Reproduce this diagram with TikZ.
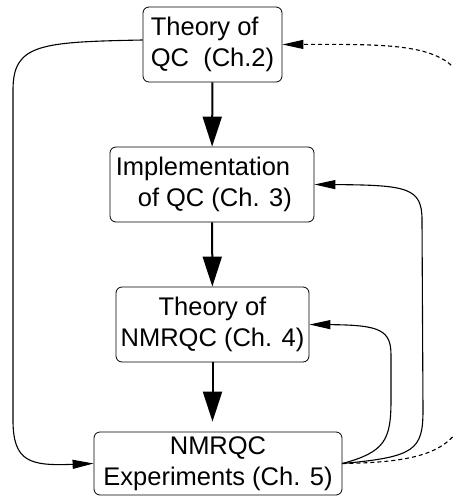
\documentclass[tikz,border=0pt]{standalone}
\usepackage{fontspec}
\setmainfont{Liberation Sans}
\usepackage{tikz}
\usetikzlibrary{arrows.meta}

\tikzset{
	chapter/.style={draw, rounded corners=6pt, line width=0.8pt, inner sep=2pt,
		minimum height=75pt, font=\fontsize{25.5}{31}\selectfont},
	flow/.style={line width=2pt, -{Triangle[length=30pt,width=19pt]}},
	back/.style={line width=1.1pt, -{Triangle[length=21pt,width=9pt]}},
}

\begin{document}
\begin{tikzpicture}[x=1pt, y=-1pt]
		\useasboundingbox (0,0) rectangle (453,496);
		% the chapters
		\node[chapter, minimum width=139pt, align=left] (qc) at (212.5,44.5)
			{Theory of\\QC\ \ (Ch.2)};
		\node[chapter, minimum width=204pt, align=left] (impl) at (212,184.5)
			{Implementation\hspace*{18pt}\\\hspace*{22pt}of QC (Ch. 3)};
		\node[chapter, minimum width=193pt, align=center] (nmr) at (212.5,324.5)
			{Theory of\\NMRQC (Ch. 4)};
		\node[chapter, minimum width=248pt, minimum height=63pt, align=center] (expt) at (218,463.5)
			{NMRQC\\Experiments (Ch. 5)};
		% straight down
		\draw[flow] (qc) -- (impl);
		\draw[flow] (impl) -- (nmr);
		\draw[flow, shorten >=10pt] (nmr) -- (expt.north -| nmr.south);
		% round the left side
		\draw[back] ([yshift=4.5pt]qc.west) .. controls (40,42) and (13,44) ..
			(13,90) -- (13,420) .. controls (13,462) and (30,466) .. (expt.west);
		% back from the experiments
		\draw[back] (expt.east) .. controls (385,452) and (391,440) ..
			(391,400) -- (391,355) .. controls (391,330) and (380,325) .. (nmr.east);
		\draw[back] (expt.east) .. controls (415,457) and (423,450) ..
			(423,410) -- (422,220) .. controls (422,188) and (408,185) .. (impl.east);
		\draw[back, dash pattern=on 4pt off 3pt] (expt.east) .. controls (430,462) and (470,450) ..
			(470,380) -- (470,120) .. controls (470,44) and (420,44) .. (qc.east);
	\end{tikzpicture}
\end{document}
